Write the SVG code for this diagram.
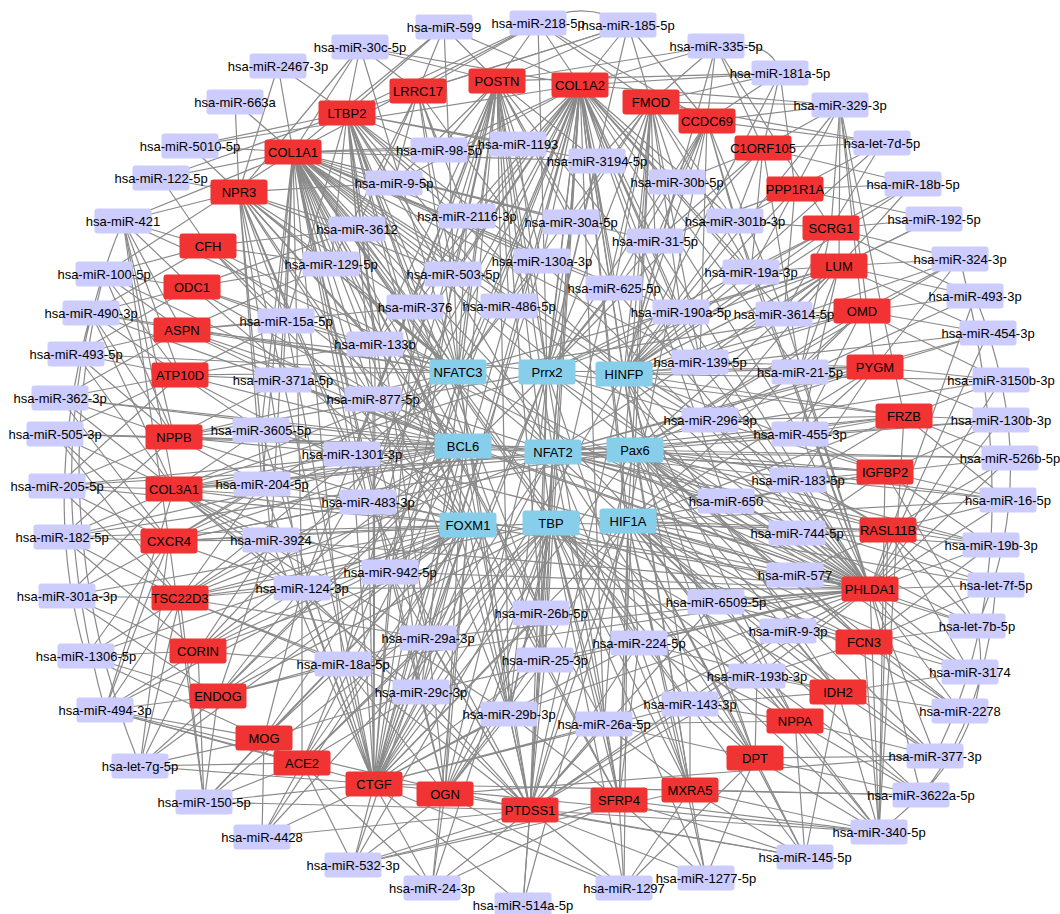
<svg xmlns="http://www.w3.org/2000/svg" xmlns:xlink="http://www.w3.org/1999/xlink" width="1060" height="914" viewBox="0 0 1060 914">
<style>
.e{fill:none;stroke:#8a8a8a;stroke-width:1.2}
.r{fill:#F23333}
.p{fill:#CCCCFF}
.t{fill:#87CEEB}
text{fill:#000;font-family:"Liberation Sans",Arial,sans-serif;font-size:13px;text-anchor:middle}
</style>
<defs><rect id="b" x="-28.5" y="-12.5" width="57" height="25" rx="3"/></defs>
<rect width="1060" height="914" fill="#fff"/>
<g id="connectors">
<path class="e" id="e-COL1A1" d="M293 152L190 146M293 152L235 102M293 152L278 66M293 152L161 178M293 152L123 221M293 152L360 47M293 152L439 150M293 152L518 144M293 152L394 183M293 152L467 216M293 152L357 229M293 152L331 264M293 152L453 274M293 152L286 321M293 152L415 307M293 152L509 306M293 152L375 344M293 152L373 399M293 152L283 380M293 152L352 454M293 152L368 502M293 152L390 572M293 152L302 588M293 152L428 638M293 152L421 692M293 152L509 714M293 152L343 664M293 152L541 613M293 152L545 660M293 152L261 430M293 152L262 484M293 152L271 540M293 152L542 261M293 152L571 222M293 152L597 161M293 152L614 288M293 152L700 362M293 152L710 420M293 152L726 501M293 152L716 602M293 152L604 724M293 152L639 643M293 152L690 704M293 152L681 312M293 152L655 241M293 152L104 274M293 152L538 23M293 152L444 27"/>
<path class="e" id="e-COL1A2" d="M580 85L538 23M580 85L628 25M580 85L444 27M580 85L716 46M580 85L780 73M580 85L439 150M580 85L518 144M580 85L597 161M580 85L394 183M580 85L677 182M580 85L467 216M580 85L571 222M580 85L655 241M580 85L542 261M580 85L453 274M580 85L614 288M580 85L509 306M580 85L681 312M580 85L700 362M580 85L710 420M580 85L428 638M580 85L509 714M580 85L421 692M580 85L541 613M580 85L545 660M580 85L726 501M580 85L800 372M580 85L800 434M580 85L784 314M580 85L751 272M580 85L735 221M580 85L375 344M580 85L373 399M580 85L415 307M580 85L368 502M580 85L390 572M580 85L639 643M580 85L604 724M580 85L690 704M580 85L343 664M580 85L302 588M580 85L840 105M580 85L360 47M580 85L190 146"/>
<path class="e" id="e-POSTN" d="M497 81L538 23M497 81L444 27M497 81L360 47M497 81L628 25M497 81L439 150M497 81L518 144M497 81L597 161M497 81L394 183M497 81L467 216M497 81L571 222M497 81L542 261M497 81L453 274M497 81L509 306M497 81L415 307M497 81L375 344M497 81L614 288M497 81L681 312M497 81L428 638M497 81L509 714M497 81L421 692M497 81L541 613M497 81L545 660M497 81L390 572M497 81L368 502M497 81L352 454M497 81L373 399M497 81L343 664M497 81L302 588M497 81L716 46M497 81L780 73"/>
<path class="e" id="e-LTBP2" d="M347 113L360 47M347 113L278 66M347 113L444 27M347 113L190 146M347 113L439 150M347 113L394 183M347 113L518 144M347 113L467 216M347 113L357 229M347 113L331 264M347 113L453 274M347 113L286 321M347 113L415 307M347 113L509 306M347 113L542 261M347 113L375 344M347 113L373 399M347 113L428 638M347 113L509 714M347 113L421 692M347 113L545 660M347 113L541 613M347 113L597 161M347 113L538 23M347 113L628 25M347 113L161 178"/>
<path class="e" id="e-LRRC17" d="M418 91L444 27M418 91L360 47M418 91L538 23M418 91L439 150M418 91L394 183M418 91L467 216M418 91L453 274M418 91L542 261M418 91L357 229M418 91L331 264M418 91L628 25"/>
<path class="e" id="e-FMOD" d="M651 102L628 25M651 102L538 23M651 102L716 46M651 102L780 73M651 102L597 161M651 102L677 182M651 102L655 241M651 102L571 222M651 102L614 288M651 102L751 272M651 102L681 312M651 102L700 362M651 102L735 221M651 102L509 714M651 102L604 724M651 102L840 105M651 102L882 143"/>
<path class="e" id="e-CCDC69" d="M707 121L716 46M707 121L780 73M707 121L840 105M707 121L628 25M707 121L677 182M707 121L735 221M707 121L655 241M707 121L751 272M707 121L614 288M707 121L784 314M707 121L700 362M707 121L882 143M707 121L538 23"/>
<path class="e" id="e-C1ORF105" d="M763 148L840 105M763 148L780 73M763 148L882 143M763 148L716 46M763 148L677 182M763 148L735 221M763 148L751 272M763 148L655 241M763 148L800 372M763 148L913 184"/>
<path class="e" id="e-PPP1R1A" d="M795 189L913 184M795 189L840 105M795 189L882 143M795 189L735 221M795 189L751 272M795 189L784 314M795 189L655 241M795 189L934 219M795 189L780 73"/>
<path class="e" id="e-SCRG1" d="M831 228L934 219M831 228L913 184M831 228L840 105M831 228L882 143M831 228L735 221M831 228L751 272M831 228L784 314M831 228L800 372M831 228L960 259M831 228L975 296M831 228L716 46"/>
<path class="e" id="e-LUM" d="M839 266L960 259M839 266L934 219M839 266L840 105M839 266L751 272M839 266L784 314M839 266L681 312M839 266L700 362M839 266L800 372M839 266L710 420M839 266L800 434M839 266L988 333M839 266L975 296M839 266L913 184"/>
<path class="e" id="e-OMD" d="M862 311L975 296M862 311L960 259M862 311L988 333M862 311L784 314M862 311L800 372M862 311L700 362M862 311L800 434M862 311L840 105M862 311L1001 380"/>
<path class="e" id="e-PYGM" d="M875 367L988 333M875 367L1001 380M875 367L800 372M875 367L800 434M875 367L710 420M875 367L798 480M875 367L700 362M875 367L840 105M875 367L1001 420M875 367L960 259"/>
<path class="e" id="e-FRZB" d="M904 416L1001 420M904 416L1001 380M904 416L1010 458M904 416L800 434M904 416L798 480M904 416L710 420M904 416L879 832M904 416L1008 500M904 416L840 105"/>
<path class="e" id="e-IGFBP2" d="M885 472L1010 458M885 472L1008 500M885 472L798 480M885 472L800 434M885 472L726 501M885 472L797 533M885 472L879 832M885 472L977 626M885 472L991 545M885 472L1001 420"/>
<path class="e" id="e-RASL11B" d="M888 530L991 545M888 530L1008 500M888 530L797 533M888 530L795 575M888 530L798 480M888 530L879 832M888 530L970 672M888 530L977 626M888 530L996 585M888 530L1010 458"/>
<path class="e" id="e-PHLDA1" d="M870 589L996 585M870 589L977 626M870 589L991 545M870 589L1008 500M870 589L1010 458M870 589L1001 420M870 589L1001 380M870 589L988 333M870 589L975 296M870 589L970 672M870 589L960 711M870 589L795 575M870 589L797 533M870 589L726 501M870 589L716 602M870 589L788 631M870 589L798 480M870 589L800 434M870 589L710 420M870 589L800 372M870 589L700 362M870 589L681 312M870 589L614 288M870 589L784 314M870 589L751 272M870 589L655 241M870 589L735 221M870 589L542 261M870 589L509 306M870 589L541 613M870 589L545 660M870 589L428 638M870 589L509 714M870 589L421 692M870 589L639 643M870 589L604 724M870 589L690 704M870 589L757 676M870 589L390 572M870 589L368 502M870 589L352 454M870 589L373 399M870 589L375 344M870 589L271 540M870 589L302 588M870 589L262 484M870 589L261 430M870 589L283 380M870 589L343 664M870 589L879 832M870 589L935 756M870 589L921 795"/>
<path class="e" id="e-FCN3" d="M864 642L977 626M864 642L970 672M864 642L788 631M864 642L795 575M864 642L716 602M864 642L757 676M864 642L879 832M864 642L960 711M864 642L996 585M864 642L991 545"/>
<path class="e" id="e-IDH2" d="M838 692L757 676M838 692L690 704M838 692L970 672M838 692L960 711M838 692L879 832M838 692L788 631M838 692L639 643M838 692L935 756M838 692L805 857"/>
<path class="e" id="e-NPPA" d="M795 721L757 676M795 721L690 704M795 721L604 724M795 721L879 832M795 721L935 756M795 721L639 643M795 721L805 857M795 721L921 795"/>
<path class="e" id="e-DPT" d="M755 758L935 756M755 758L921 795M755 758L879 832M755 758L805 857M755 758L690 704M755 758L604 724M755 758L757 676M755 758L624 888M755 758L706 878"/>
<path class="e" id="e-MXRA5" d="M690 790L921 795M690 790L879 832M690 790L805 857M690 790L706 878M690 790L604 724M690 790L639 643M690 790L690 704M690 790L353 865M690 790L624 888"/>
<path class="e" id="e-SFRP4" d="M619 800L624 888M619 800L706 878M619 800L604 724M619 800L639 643M619 800L879 832M619 800L805 857M619 800L509 714M619 800L545 660M619 800L353 865M619 800L432 888"/>
<path class="e" id="e-PTDSS1" d="M530 810L509 714M530 810L428 638M530 810L421 692M530 810L541 613M530 810L545 660M530 810L639 643M530 810L604 724M530 810L690 704M530 810L624 888M530 810L523 905M530 810L432 888M530 810L706 878M530 810L353 865M530 810L343 664M530 810L390 572M530 810L302 588M530 810L368 502M530 810L716 602M530 810L788 631M530 810L757 676M530 810L879 832M530 810L805 857M530 810L204 802M530 810L105 710M530 810L262 837"/>
<path class="e" id="e-OGN" d="M445 794L509 714M445 794L428 638M445 794L421 692M445 794L545 660M445 794L541 613M445 794L432 888M445 794L353 865M445 794L624 888M445 794L343 664M445 794L390 572M445 794L805 857M445 794L935 756"/>
<path class="e" id="e-CTGF" d="M374 784L428 638M374 784L509 714M374 784L421 692M374 784L545 660M374 784L541 613M374 784L343 664M374 784L390 572M374 784L302 588M374 784L368 502M374 784L352 454M374 784L373 399M374 784L375 344M374 784L271 540M374 784L262 484M374 784L261 430M374 784L283 380M374 784L286 321M374 784L415 307M374 784L453 274M374 784L509 306M374 784L542 261M374 784L639 643M374 784L604 724M374 784L690 704M374 784L353 865M374 784L432 888M374 784L262 837M374 784L204 802M374 784L523 905M374 784L624 888M374 784L105 710M374 784L140 766M374 784L879 832M374 784L921 795"/>
<path class="e" id="e-ACE2" d="M302 763L262 837M302 763L204 802M302 763L353 865M302 763L343 664M302 763L421 692M302 763L302 588M302 763L428 638M302 763L140 766M302 763L105 710M302 763L432 888"/>
<path class="e" id="e-MOG" d="M264 738L105 710M264 738L140 766M264 738L204 802M264 738L343 664M264 738L302 588M264 738L421 692M264 738L262 837M264 738L86 656"/>
<path class="e" id="e-ENDOG" d="M218 696L105 710M218 696L204 802M218 696L140 766M218 696L86 656M218 696L343 664M218 696L302 588M218 696L271 540M218 696L428 638M218 696L67 596"/>
<path class="e" id="e-CORIN" d="M198 651L86 656M198 651L105 710M198 651L140 766M198 651L204 802M198 651L67 596M198 651L302 588M198 651L343 664M198 651L271 540M198 651L62 537"/>
<path class="e" id="e-TSC22D3" d="M180 598L67 596M180 598L62 537M180 598L86 656M180 598L105 710M180 598L302 588M180 598L271 540M180 598L390 572M180 598L343 664M180 598L428 638M180 598L421 692M180 598L262 484M180 598L204 802M180 598L140 766M180 598L55 434M180 598L57 486"/>
<path class="e" id="e-CXCR4" d="M169 541L62 537M169 541L57 486M169 541L67 596M169 541L271 540M169 541L302 588M169 541L262 484M169 541L368 502M169 541L352 454M169 541L123 221M169 541L105 710M169 541L140 766M169 541L204 802M169 541L60 398M169 541L55 434M169 541L86 656"/>
<path class="e" id="e-COL3A1" d="M174 489L57 486M174 489L55 434M174 489L62 537M174 489L262 484M174 489L261 430M174 489L271 540M174 489L352 454M174 489L368 502M174 489L302 588M174 489L428 638M174 489L509 714M174 489L421 692M174 489L390 572M174 489L123 221M174 489L105 710M174 489L91 313M174 489L76 354M174 489L60 398M174 489L67 596"/>
<path class="e" id="e-NPPB" d="M174 437L55 434M174 437L60 398M174 437L57 486M174 437L261 430M174 437L262 484M174 437L283 380M174 437L352 454M174 437L123 221M174 437L104 274M174 437L91 313M174 437L76 354M174 437L62 537"/>
<path class="e" id="e-ATP10D" d="M180 375L60 398M180 375L76 354M180 375L91 313M180 375L283 380M180 375L286 321M180 375L261 430M180 375L375 344M180 375L123 221M180 375L104 274M180 375L55 434M180 375L57 486"/>
<path class="e" id="e-ASPN" d="M182 330L91 313M182 330L76 354M182 330L104 274M182 330L286 321M182 330L283 380M182 330L331 264M182 330L415 307M182 330L123 221M182 330L60 398"/>
<path class="e" id="e-ODC1" d="M192 287L104 274M192 287L91 313M192 287L123 221M192 287L331 264M192 287L286 321M192 287L357 229M192 287L76 354"/>
<path class="e" id="e-CFH" d="M208 246L123 221M208 246L104 274M208 246L161 178M208 246L331 264M208 246L357 229M208 246L286 321M208 246L91 313"/>
<path class="e" id="e-NPR3" d="M239 192L161 178M239 192L123 221M239 192L190 146M239 192L235 102M239 192L278 66M239 192L357 229M239 192L331 264M239 192L394 183M239 192L286 321M239 192L283 380M239 192L375 344M239 192L415 307M239 192L453 274M239 192L373 399M239 192L352 454M239 192L261 430M239 192L262 484M239 192L368 502M239 192L271 540M239 192L302 588M239 192L360 47"/>
<path class="e" id="e-NFATC3" d="M458 372L293 152M458 372L347 113M458 372L497 81M458 372L580 85M458 372L239 192M458 372L208 246M458 372L192 287M458 372L182 330M458 372L180 375M458 372L174 437M458 372L174 489M458 372L169 541M458 372L180 598M458 372L198 651M458 372L374 784M458 372L530 810M458 372L870 589M458 372L839 266M458 372L862 311M458 372L651 102M458 372L418 91M458 372L360 47M458 372L444 27M458 372L123 221M458 372L91 313M458 372L76 354M458 372L331 264M458 372L286 321M458 372L357 229M458 372L467 216M458 372L542 261M458 372L509 714"/>
<path class="e" id="e-Prrx2" d="M547 372L293 152M547 372L497 81M547 372L580 85M547 372L651 102M547 372L707 121M547 372L763 148M547 372L831 228M547 372L839 266M547 372L875 367M547 372L904 416M547 372L885 472M547 372L870 589M547 372L864 642M547 372L619 800M547 372L530 810M547 372L445 794M547 372L374 784M547 372L218 696M547 372L174 489M547 372L174 437M547 372L182 330M547 372L538 23M547 372L628 25M547 372L518 144M547 372L597 161M547 372L571 222M547 372L655 241M547 372L614 288M547 372L681 312M547 372L541 613M547 372L421 692M547 372L639 643"/>
<path class="e" id="e-HINFP" d="M624 374L580 85M624 374L651 102M624 374L707 121M624 374L795 189M624 374L831 228M624 374L839 266M624 374L862 311M624 374L875 367M624 374L904 416M624 374L885 472M624 374L888 530M624 374L870 589M624 374L838 692M624 374L795 721M624 374L755 758M624 374L690 790M624 374L530 810M624 374L374 784M624 374L293 152M624 374L347 113M624 374L716 46M624 374L780 73M624 374L840 105M624 374L882 143M624 374L913 184M624 374L934 219M624 374L960 259M624 374L988 333M624 374L1001 380M624 374L677 182M624 374L735 221M624 374L751 272"/>
<path class="e" id="e-BCL6" d="M463 446L293 152M463 446L239 192M463 446L208 246M463 446L192 287M463 446L182 330M463 446L180 375M463 446L174 437M463 446L174 489M463 446L169 541M463 446L180 598M463 446L198 651M463 446L218 696M463 446L264 738M463 446L302 763M463 446L374 784M463 446L445 794M463 446L530 810M463 446L870 589M463 446L885 472M463 446L497 81M463 446L60 398M463 446L55 434M463 446L57 486M463 446L62 537M463 446L104 274M463 446L91 313M463 446L261 430M463 446L283 380M463 446L262 484M463 446L352 454M463 446L368 502"/>
<path class="e" id="e-NFAT2" d="M553 452L293 152M553 452L580 85M553 452L497 81M553 452L347 113M553 452L239 192M553 452L182 330M553 452L174 489M553 452L180 598M553 452L374 784M553 452L530 810M553 452L619 800M553 452L690 790M553 452L755 758M553 452L870 589M553 452L888 530M553 452L885 472M553 452L904 416M553 452L875 367M553 452L839 266M553 452L1001 420M553 452L1010 458M553 452L1008 500M553 452L991 545M553 452L996 585M553 452L55 434M553 452L60 398M553 452L1001 380M553 452L988 333M553 452L541 613M553 452L545 660M553 452L428 638M553 452L716 602M553 452L726 501"/>
<path class="e" id="e-Pax6" d="M635 450L580 85M635 450L651 102M635 450L839 266M635 450L862 311M635 450L904 416M635 450L885 472M635 450L888 530M635 450L870 589M635 450L864 642M635 450L838 692M635 450L795 721M635 450L755 758M635 450L690 790M635 450L619 800M635 450L530 810M635 450L374 784M635 450L174 489M635 450L169 541M635 450L174 437M635 450L1001 420M635 450L1010 458M635 450L1008 500M635 450L991 545M635 450L977 626M635 450L970 672M635 450L960 711M635 450L935 756M635 450L975 296M635 450L960 259M635 450L57 486M635 450L62 537"/>
<path class="e" id="e-FOXM1" d="M468 525L293 152M468 525L239 192M468 525L347 113M468 525L208 246M468 525L192 287M468 525L180 375M468 525L174 437M468 525L174 489M468 525L169 541M468 525L180 598M468 525L198 651M468 525L218 696M468 525L264 738M468 525L302 763M468 525L374 784M468 525L445 794M468 525L530 810M468 525L619 800M468 525L870 589M468 525L67 596M468 525L86 656M468 525L105 710M468 525L140 766M468 525L204 802M468 525L262 837M468 525L353 865M468 525L432 888M468 525L62 537M468 525L57 486M468 525L390 572M468 525L302 588"/>
<path class="e" id="e-TBP" d="M551 523L293 152M551 523L580 85M551 523L497 81M551 523L374 784M551 523L530 810M551 523L445 794M551 523L619 800M551 523L690 790M551 523L755 758M551 523L795 721M551 523L838 692M551 523L864 642M551 523L870 589M551 523L888 530M551 523L218 696M551 523L198 651M551 523L180 598M551 523L169 541M551 523L302 763M551 523L523 905M551 523L624 888M551 523L432 888M551 523L706 878M551 523L805 857M551 523L879 832M551 523L921 795M551 523L353 865M551 523L204 802M551 523L262 837M551 523L509 714M551 523L604 724"/>
<path class="e" id="e-HIF1A" d="M628 521L580 85M628 521L651 102M628 521L707 121M628 521L870 589M628 521L864 642M628 521L838 692M628 521L795 721M628 521L755 758M628 521L690 790M628 521L619 800M628 521L530 810M628 521L445 794M628 521L374 784M628 521L888 530M628 521L885 472M628 521L904 416M628 521L875 367M628 521L862 311M628 521L879 832M628 521L805 857M628 521L706 878M628 521L921 795M628 521L935 756M628 521L960 711M628 521L970 672M628 521L977 626M628 521L996 585M628 521L991 545M628 521L1008 500M628 521L624 888M628 521L523 905"/>
<path class="e" id="e-curves" d="M538 23Q583 -2 628 25M716 46Q772 38 780 73M123 221Q30 440 105 710M104 274Q40 520 140 766M91 313Q40 500 86 656M975 296Q1045 470 977 626M960 259Q1035 560 935 756M977 626Q1000 740 879 832M996 585Q985 720 921 795"/>
</g>
<g id="nodes">
<g id="n-COL1A1" class="r" transform="translate(293 152)"><use href="#b"/><text y="4.5">COL1A1</text></g>
<g id="n-LTBP2" class="r" transform="translate(347 113)"><use href="#b"/><text y="4.5">LTBP2</text></g>
<g id="n-LRRC17" class="r" transform="translate(418 91)"><use href="#b"/><text y="4.5">LRRC17</text></g>
<g id="n-POSTN" class="r" transform="translate(497 81)"><use href="#b"/><text y="4.5">POSTN</text></g>
<g id="n-COL1A2" class="r" transform="translate(580 85)"><use href="#b"/><text y="4.5">COL1A2</text></g>
<g id="n-FMOD" class="r" transform="translate(651 102)"><use href="#b"/><text y="4.5">FMOD</text></g>
<g id="n-CCDC69" class="r" transform="translate(707 121)"><use href="#b"/><text y="4.5">CCDC69</text></g>
<g id="n-C1ORF105" class="r" transform="translate(763 148)"><use href="#b"/><text y="4.5">C1ORF105</text></g>
<g id="n-PPP1R1A" class="r" transform="translate(795 189)"><use href="#b"/><text y="4.5">PPP1R1A</text></g>
<g id="n-SCRG1" class="r" transform="translate(831 228)"><use href="#b"/><text y="4.5">SCRG1</text></g>
<g id="n-LUM" class="r" transform="translate(839 266)"><use href="#b"/><text y="4.5">LUM</text></g>
<g id="n-OMD" class="r" transform="translate(862 311)"><use href="#b"/><text y="4.5">OMD</text></g>
<g id="n-PYGM" class="r" transform="translate(875 367)"><use href="#b"/><text y="4.5">PYGM</text></g>
<g id="n-FRZB" class="r" transform="translate(904 416)"><use href="#b"/><text y="4.5">FRZB</text></g>
<g id="n-IGFBP2" class="r" transform="translate(885 472)"><use href="#b"/><text y="4.5">IGFBP2</text></g>
<g id="n-RASL11B" class="r" transform="translate(888 530)"><use href="#b"/><text y="4.5">RASL11B</text></g>
<g id="n-PHLDA1" class="r" transform="translate(870 589)"><use href="#b"/><text y="4.5">PHLDA1</text></g>
<g id="n-FCN3" class="r" transform="translate(864 642)"><use href="#b"/><text y="4.5">FCN3</text></g>
<g id="n-IDH2" class="r" transform="translate(838 692)"><use href="#b"/><text y="4.5">IDH2</text></g>
<g id="n-NPPA" class="r" transform="translate(795 721)"><use href="#b"/><text y="4.5">NPPA</text></g>
<g id="n-DPT" class="r" transform="translate(755 758)"><use href="#b"/><text y="4.5">DPT</text></g>
<g id="n-MXRA5" class="r" transform="translate(690 790)"><use href="#b"/><text y="4.5">MXRA5</text></g>
<g id="n-SFRP4" class="r" transform="translate(619 800)"><use href="#b"/><text y="4.5">SFRP4</text></g>
<g id="n-PTDSS1" class="r" transform="translate(530 810)"><use href="#b"/><text y="4.5">PTDSS1</text></g>
<g id="n-OGN" class="r" transform="translate(445 794)"><use href="#b"/><text y="4.5">OGN</text></g>
<g id="n-CTGF" class="r" transform="translate(374 784)"><use href="#b"/><text y="4.5">CTGF</text></g>
<g id="n-ACE2" class="r" transform="translate(302 763)"><use href="#b"/><text y="4.5">ACE2</text></g>
<g id="n-MOG" class="r" transform="translate(264 738)"><use href="#b"/><text y="4.5">MOG</text></g>
<g id="n-ENDOG" class="r" transform="translate(218 696)"><use href="#b"/><text y="4.5">ENDOG</text></g>
<g id="n-CORIN" class="r" transform="translate(198 651)"><use href="#b"/><text y="4.5">CORIN</text></g>
<g id="n-TSC22D3" class="r" transform="translate(180 598)"><use href="#b"/><text y="4.5">TSC22D3</text></g>
<g id="n-CXCR4" class="r" transform="translate(169 541)"><use href="#b"/><text y="4.5">CXCR4</text></g>
<g id="n-COL3A1" class="r" transform="translate(174 489)"><use href="#b"/><text y="4.5">COL3A1</text></g>
<g id="n-NPPB" class="r" transform="translate(174 437)"><use href="#b"/><text y="4.5">NPPB</text></g>
<g id="n-ATP10D" class="r" transform="translate(180 375)"><use href="#b"/><text y="4.5">ATP10D</text></g>
<g id="n-ASPN" class="r" transform="translate(182 330)"><use href="#b"/><text y="4.5">ASPN</text></g>
<g id="n-ODC1" class="r" transform="translate(192 287)"><use href="#b"/><text y="4.5">ODC1</text></g>
<g id="n-CFH" class="r" transform="translate(208 246)"><use href="#b"/><text y="4.5">CFH</text></g>
<g id="n-NPR3" class="r" transform="translate(239 192)"><use href="#b"/><text y="4.5">NPR3</text></g>
<g id="n-NFATC3" class="t" transform="translate(458 372)"><use href="#b"/><text y="4.5">NFATC3</text></g>
<g id="n-Prrx2" class="t" transform="translate(547 372)"><use href="#b"/><text y="4.5">Prrx2</text></g>
<g id="n-HINFP" class="t" transform="translate(624 374)"><use href="#b"/><text y="4.5">HINFP</text></g>
<g id="n-BCL6" class="t" transform="translate(463 446)"><use href="#b"/><text y="4.5">BCL6</text></g>
<g id="n-NFAT2" class="t" transform="translate(553 452)"><use href="#b"/><text y="4.5">NFAT2</text></g>
<g id="n-Pax6" class="t" transform="translate(635 450)"><use href="#b"/><text y="4.5">Pax6</text></g>
<g id="n-FOXM1" class="t" transform="translate(468 525)"><use href="#b"/><text y="4.5">FOXM1</text></g>
<g id="n-TBP" class="t" transform="translate(551 523)"><use href="#b"/><text y="4.5">TBP</text></g>
<g id="n-HIF1A" class="t" transform="translate(628 521)"><use href="#b"/><text y="4.5">HIF1A</text></g>
<g id="n-m599" class="p" transform="translate(444 27)"><use href="#b"/><text y="4.5">hsa-miR-599</text></g>
<g id="n-m218" class="p" transform="translate(538 23)"><use href="#b"/><text y="4.5">hsa-miR-218-5p</text></g>
<g id="n-m185" class="p" transform="translate(628 25)"><use href="#b"/><text y="4.5">hsa-miR-185-5p</text></g>
<g id="n-m30c" class="p" transform="translate(360 47)"><use href="#b"/><text y="4.5">hsa-miR-30c-5p</text></g>
<g id="n-m335" class="p" transform="translate(716 46)"><use href="#b"/><text y="4.5">hsa-miR-335-5p</text></g>
<g id="n-m2467" class="p" transform="translate(278 66)"><use href="#b"/><text y="4.5">hsa-miR-2467-3p</text></g>
<g id="n-m181a" class="p" transform="translate(780 73)"><use href="#b"/><text y="4.5">hsa-miR-181a-5p</text></g>
<g id="n-m663a" class="p" transform="translate(235 102)"><use href="#b"/><text y="4.5">hsa-miR-663a</text></g>
<g id="n-m329" class="p" transform="translate(840 105)"><use href="#b"/><text y="4.5">hsa-miR-329-3p</text></g>
<g id="n-m5010" class="p" transform="translate(190 146)"><use href="#b"/><text y="4.5">hsa-miR-5010-5p</text></g>
<g id="n-let7d" class="p" transform="translate(882 143)"><use href="#b"/><text y="4.5">hsa-let-7d-5p</text></g>
<g id="n-m122" class="p" transform="translate(161 178)"><use href="#b"/><text y="4.5">hsa-miR-122-5p</text></g>
<g id="n-m18b" class="p" transform="translate(913 184)"><use href="#b"/><text y="4.5">hsa-miR-18b-5p</text></g>
<g id="n-m421" class="p" transform="translate(123 221)"><use href="#b"/><text y="4.5">hsa-miR-421</text></g>
<g id="n-m192" class="p" transform="translate(934 219)"><use href="#b"/><text y="4.5">hsa-miR-192-5p</text></g>
<g id="n-m324" class="p" transform="translate(960 259)"><use href="#b"/><text y="4.5">hsa-miR-324-3p</text></g>
<g id="n-m100" class="p" transform="translate(104 274)"><use href="#b"/><text y="4.5">hsa-miR-100-5p</text></g>
<g id="n-m493-3p" class="p" transform="translate(975 296)"><use href="#b"/><text y="4.5">hsa-miR-493-3p</text></g>
<g id="n-m490" class="p" transform="translate(91 313)"><use href="#b"/><text y="4.5">hsa-miR-490-3p</text></g>
<g id="n-m454" class="p" transform="translate(988 333)"><use href="#b"/><text y="4.5">hsa-miR-454-3p</text></g>
<g id="n-m493-5p" class="p" transform="translate(76 354)"><use href="#b"/><text y="4.5">hsa-miR-493-5p</text></g>
<g id="n-m3150b" class="p" transform="translate(1001 380)"><use href="#b"/><text y="4.5">hsa-miR-3150b-3p</text></g>
<g id="n-m362" class="p" transform="translate(60 398)"><use href="#b"/><text y="4.5">hsa-miR-362-3p</text></g>
<g id="n-m130b" class="p" transform="translate(1001 420)"><use href="#b"/><text y="4.5">hsa-miR-130b-3p</text></g>
<g id="n-m505" class="p" transform="translate(55 434)"><use href="#b"/><text y="4.5">hsa-miR-505-3p</text></g>
<g id="n-m526b" class="p" transform="translate(1010 458)"><use href="#b"/><text y="4.5">hsa-miR-526b-5p</text></g>
<g id="n-m205" class="p" transform="translate(57 486)"><use href="#b"/><text y="4.5">hsa-miR-205-5p</text></g>
<g id="n-m16" class="p" transform="translate(1008 500)"><use href="#b"/><text y="4.5">hsa-miR-16-5p</text></g>
<g id="n-m182" class="p" transform="translate(62 537)"><use href="#b"/><text y="4.5">hsa-miR-182-5p</text></g>
<g id="n-m19b" class="p" transform="translate(991 545)"><use href="#b"/><text y="4.5">hsa-miR-19b-3p</text></g>
<g id="n-m301a" class="p" transform="translate(67 596)"><use href="#b"/><text y="4.5">hsa-miR-301a-3p</text></g>
<g id="n-let7f" class="p" transform="translate(996 585)"><use href="#b"/><text y="4.5">hsa-let-7f-5p</text></g>
<g id="n-let7b" class="p" transform="translate(977 626)"><use href="#b"/><text y="4.5">hsa-let-7b-5p</text></g>
<g id="n-m1306" class="p" transform="translate(86 656)"><use href="#b"/><text y="4.5">hsa-miR-1306-5p</text></g>
<g id="n-m3174" class="p" transform="translate(970 672)"><use href="#b"/><text y="4.5">hsa-miR-3174</text></g>
<g id="n-m494" class="p" transform="translate(105 710)"><use href="#b"/><text y="4.5">hsa-miR-494-3p</text></g>
<g id="n-m2278" class="p" transform="translate(960 711)"><use href="#b"/><text y="4.5">hsa-miR-2278</text></g>
<g id="n-let7g" class="p" transform="translate(140 766)"><use href="#b"/><text y="4.5">hsa-let-7g-5p</text></g>
<g id="n-m377" class="p" transform="translate(935 756)"><use href="#b"/><text y="4.5">hsa-miR-377-3p</text></g>
<g id="n-m150" class="p" transform="translate(204 802)"><use href="#b"/><text y="4.5">hsa-miR-150-5p</text></g>
<g id="n-m3622a" class="p" transform="translate(921 795)"><use href="#b"/><text y="4.5">hsa-miR-3622a-5p</text></g>
<g id="n-m4428" class="p" transform="translate(262 837)"><use href="#b"/><text y="4.5">hsa-miR-4428</text></g>
<g id="n-m340" class="p" transform="translate(879 832)"><use href="#b"/><text y="4.5">hsa-miR-340-5p</text></g>
<g id="n-m145" class="p" transform="translate(805 857)"><use href="#b"/><text y="4.5">hsa-miR-145-5p</text></g>
<g id="n-m532" class="p" transform="translate(353 865)"><use href="#b"/><text y="4.5">hsa-miR-532-3p</text></g>
<g id="n-m1277" class="p" transform="translate(706 878)"><use href="#b"/><text y="4.5">hsa-miR-1277-5p</text></g>
<g id="n-m24" class="p" transform="translate(432 888)"><use href="#b"/><text y="4.5">hsa-miR-24-3p</text></g>
<g id="n-m1297" class="p" transform="translate(624 888)"><use href="#b"/><text y="4.5">hsa-miR-1297</text></g>
<g id="n-m514a" class="p" transform="translate(523 905)"><use href="#b"/><text y="4.5">hsa-miR-514a-5p</text></g>
<g id="n-m98" class="p" transform="translate(439 150)"><use href="#b"/><text y="4.5">hsa-miR-98-5p</text></g>
<g id="n-m1193" class="p" transform="translate(518 144)"><use href="#b"/><text y="4.5">hsa-miR-1193</text></g>
<g id="n-m3194" class="p" transform="translate(597 161)"><use href="#b"/><text y="4.5">hsa-miR-3194-5p</text></g>
<g id="n-m9-5p" class="p" transform="translate(394 183)"><use href="#b"/><text y="4.5">hsa-miR-9-5p</text></g>
<g id="n-m30b" class="p" transform="translate(677 182)"><use href="#b"/><text y="4.5">hsa-miR-30b-5p</text></g>
<g id="n-m2116" class="p" transform="translate(467 216)"><use href="#b"/><text y="4.5">hsa-miR-2116-3p</text></g>
<g id="n-m30a" class="p" transform="translate(571 222)"><use href="#b"/><text y="4.5">hsa-miR-30a-5p</text></g>
<g id="n-m3612" class="p" transform="translate(357 229)"><use href="#b"/><text y="4.5">hsa-miR-3612</text></g>
<g id="n-m301b" class="p" transform="translate(735 221)"><use href="#b"/><text y="4.5">hsa-miR-301b-3p</text></g>
<g id="n-m31" class="p" transform="translate(655 241)"><use href="#b"/><text y="4.5">hsa-miR-31-5p</text></g>
<g id="n-m130a" class="p" transform="translate(542 261)"><use href="#b"/><text y="4.5">hsa-miR-130a-3p</text></g>
<g id="n-m129" class="p" transform="translate(331 264)"><use href="#b"/><text y="4.5">hsa-miR-129-5p</text></g>
<g id="n-m19a" class="p" transform="translate(751 272)"><use href="#b"/><text y="4.5">hsa-miR-19a-3p</text></g>
<g id="n-m503" class="p" transform="translate(453 274)"><use href="#b"/><text y="4.5">hsa-miR-503-5p</text></g>
<g id="n-m625" class="p" transform="translate(614 288)"><use href="#b"/><text y="4.5">hsa-miR-625-5p</text></g>
<g id="n-m15a" class="p" transform="translate(286 321)"><use href="#b"/><text y="4.5">hsa-miR-15a-5p</text></g>
<g id="n-m376" class="p" transform="translate(415 307)"><use href="#b"/><text y="4.5">hsa-miR-376</text></g>
<g id="n-m486" class="p" transform="translate(509 306)"><use href="#b"/><text y="4.5">hsa-miR-486-5p</text></g>
<g id="n-m190a" class="p" transform="translate(681 312)"><use href="#b"/><text y="4.5">hsa-miR-190a-5p</text></g>
<g id="n-m3614" class="p" transform="translate(784 314)"><use href="#b"/><text y="4.5">hsa-miR-3614-5p</text></g>
<g id="n-m133b" class="p" transform="translate(375 344)"><use href="#b"/><text y="4.5">hsa-miR-133b</text></g>
<g id="n-m139" class="p" transform="translate(700 362)"><use href="#b"/><text y="4.5">hsa-miR-139-5p</text></g>
<g id="n-m21" class="p" transform="translate(800 372)"><use href="#b"/><text y="4.5">hsa-miR-21-5p</text></g>
<g id="n-m371a" class="p" transform="translate(283 380)"><use href="#b"/><text y="4.5">hsa-miR-371a-5p</text></g>
<g id="n-m877" class="p" transform="translate(373 399)"><use href="#b"/><text y="4.5">hsa-miR-877-5p</text></g>
<g id="n-m3605" class="p" transform="translate(261 430)"><use href="#b"/><text y="4.5">hsa-miR-3605-5p</text></g>
<g id="n-m296" class="p" transform="translate(710 420)"><use href="#b"/><text y="4.5">hsa-miR-296-3p</text></g>
<g id="n-m455" class="p" transform="translate(800 434)"><use href="#b"/><text y="4.5">hsa-miR-455-3p</text></g>
<g id="n-m1301" class="p" transform="translate(352 454)"><use href="#b"/><text y="4.5">hsa-miR-1301-3p</text></g>
<g id="n-m204" class="p" transform="translate(262 484)"><use href="#b"/><text y="4.5">hsa-miR-204-5p</text></g>
<g id="n-m183" class="p" transform="translate(798 480)"><use href="#b"/><text y="4.5">hsa-miR-183-5p</text></g>
<g id="n-m483" class="p" transform="translate(368 502)"><use href="#b"/><text y="4.5">hsa-miR-483-3p</text></g>
<g id="n-m650" class="p" transform="translate(726 501)"><use href="#b"/><text y="4.5">hsa-miR-650</text></g>
<g id="n-m3924" class="p" transform="translate(271 540)"><use href="#b"/><text y="4.5">hsa-miR-3924</text></g>
<g id="n-m744" class="p" transform="translate(797 533)"><use href="#b"/><text y="4.5">hsa-miR-744-5p</text></g>
<g id="n-m942" class="p" transform="translate(390 572)"><use href="#b"/><text y="4.5">hsa-miR-942-5p</text></g>
<g id="n-m577" class="p" transform="translate(795 575)"><use href="#b"/><text y="4.5">hsa-miR-577</text></g>
<g id="n-m124" class="p" transform="translate(302 588)"><use href="#b"/><text y="4.5">hsa-miR-124-3p</text></g>
<g id="n-m6509" class="p" transform="translate(716 602)"><use href="#b"/><text y="4.5">hsa-miR-6509-5p</text></g>
<g id="n-m26b" class="p" transform="translate(541 613)"><use href="#b"/><text y="4.5">hsa-miR-26b-5p</text></g>
<g id="n-m9-3p" class="p" transform="translate(788 631)"><use href="#b"/><text y="4.5">hsa-miR-9-3p</text></g>
<g id="n-m29a" class="p" transform="translate(428 638)"><use href="#b"/><text y="4.5">hsa-miR-29a-3p</text></g>
<g id="n-m224" class="p" transform="translate(639 643)"><use href="#b"/><text y="4.5">hsa-miR-224-5p</text></g>
<g id="n-m25" class="p" transform="translate(545 660)"><use href="#b"/><text y="4.5">hsa-miR-25-3p</text></g>
<g id="n-m18a" class="p" transform="translate(343 664)"><use href="#b"/><text y="4.5">hsa-miR-18a-5p</text></g>
<g id="n-m193b" class="p" transform="translate(757 676)"><use href="#b"/><text y="4.5">hsa-miR-193b-3p</text></g>
<g id="n-m29c" class="p" transform="translate(421 692)"><use href="#b"/><text y="4.5">hsa-miR-29c-3p</text></g>
<g id="n-m143" class="p" transform="translate(690 704)"><use href="#b"/><text y="4.5">hsa-miR-143-3p</text></g>
<g id="n-m29b" class="p" transform="translate(509 714)"><use href="#b"/><text y="4.5">hsa-miR-29b-3p</text></g>
<g id="n-m26a" class="p" transform="translate(604 724)"><use href="#b"/><text y="4.5">hsa-miR-26a-5p</text></g>
</g>
</svg>
